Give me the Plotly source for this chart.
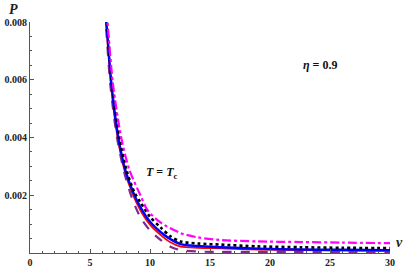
import plotly.graph_objects as go

# Curve data (v, P)
v_magenta = [6.2, 6.45, 6.9, 7.6, 8.3, 9.2, 9.8, 10.9, 12.55, 14.0, 15.9, 19.0, 22.6, 26.0, 30.0]
p_magenta = [0.0090, 0.0080, 0.0059, 0.0040, 0.00286, 0.0020, 0.00148, 0.00105, 0.00069, 0.00054, 0.00045, 0.00040, 0.00038, 0.00036, 0.00034]

v_black = [6.15, 6.4, 6.85, 7.45, 8.05, 8.7, 9.2, 10.0, 10.9, 11.7, 12.55, 14.0, 15.9, 19.0, 22.6, 26.0, 30.0]
p_black = [0.0090, 0.0080, 0.0058, 0.0040, 0.00286, 0.0021, 0.00176, 0.00125, 0.00088, 0.00058, 0.00040, 0.00033, 0.00029, 0.00023, 0.00020, 0.00018, 0.00017]

v_blue = [6.1, 6.36, 6.8, 7.36, 7.95, 8.6, 9.2, 10.0, 10.9, 11.7, 12.55, 14.0, 15.9, 19.0, 22.6, 26.0, 30.0]
p_blue = [0.0090, 0.0080, 0.0058, 0.0040, 0.00286, 0.0021, 0.00159, 0.00108, 0.00072, 0.00048, 0.00031, 0.00024, 0.00020, 0.00015, 0.00012, 0.00011, 0.00010]

v_red = [6.1, 6.33, 6.75, 7.3, 7.9, 8.5, 9.2, 10.0, 10.9, 11.7, 12.55, 14.0, 15.9, 19.0, 22.6, 26.0, 30.0]
p_red = [0.0090, 0.0080, 0.0058, 0.0040, 0.00283, 0.0021, 0.00148, 0.00098, 0.00062, 0.00037, 0.00022, 0.00018, 0.00016, 0.00012, 0.00010, 0.00008, 0.00007]

v_purple = [6.05, 6.3, 6.7, 7.25, 7.85, 8.5, 9.2, 10.0, 10.9, 11.7, 12.55, 14.0, 15.9, 19.0, 22.6, 26.0, 30.0]
p_purple = [0.0090, 0.0080, 0.0058, 0.0040, 0.0028, 0.0019, 0.00124, 0.00078, 0.00045, 0.00022, 0.00010, 0.00005, 0.00004, 0.00004, 0.00004, 0.00004, 0.00004]

x_ticks = [0, 5, 10, 15, 20, 25, 30]
y_ticks = [0.002, 0.004, 0.006, 0.008]
y_tick_labels = ["0.002", "0.004", "0.006", "0.008"]

fig = go.Figure()

def add(v, p, color, width, dash):
    fig.add_trace(go.Scatter(x=v, y=p, mode="lines",
                             line=dict(color=color, width=width, dash=dash, shape="spline", smoothing=0.8),
                             showlegend=False, hoverinfo="skip"))

add(v_red, p_red, "#ff0000", 1.8, "solid")
add(v_purple, p_purple, "#7d2a8c", 2.2, "dash")
add(v_blue, p_blue, "#0000ff", 2.4, "solid")
add(v_black, p_black, "#000000", 2.6, "dot")
add(v_magenta, p_magenta, "#ff00ff", 2.2, "dashdot")

tickfont = dict(family="Liberation Serif", size=10, color="#222", weight="bold")

fig.update_layout(
    width=415, height=267,
    margin=dict(l=30, r=25, t=22, b=14),
    paper_bgcolor="white", plot_bgcolor="white",
    xaxis=dict(range=[0, 30], tickvals=x_ticks, ticktext=[str(t) for t in x_ticks],
               automargin=False,
               showgrid=False, zeroline=False, showline=True, linecolor="#555", linewidth=1,
               ticks="inside", ticklen=4, tickcolor="#555", tickfont=tickfont,
               minor=dict(ticks="inside", dtick=1, ticklen=2, tickcolor="#555", showgrid=False)),
    yaxis=dict(range=[0, 0.008], tickvals=y_ticks, ticktext=y_tick_labels,
               automargin=False,
               showgrid=False, zeroline=False, showline=True, linecolor="#555", linewidth=1,
               ticks="inside", ticklen=4, tickcolor="#555", tickfont=tickfont,
               minor=dict(ticks="inside", dtick=0.0005, ticklen=2, tickcolor="#555", showgrid=False)),
    annotations=[
        dict(x=0, y=1.0, xref="paper", yref="paper", xanchor="right", yanchor="bottom",
             text="<b><i>P</i></b>", showarrow=False, xshift=-10, yshift=3,
             font=dict(family="Liberation Serif", size=14, color="#222")),
        dict(x=1.0, y=0, xref="paper", yref="paper", xanchor="left", yanchor="bottom",
             text="<b><i>v</i></b>", showarrow=False, xshift=4, yshift=1,
             font=dict(family="Liberation Serif", size=14, color="#222")),
        dict(x=22.6, y=0.0065, xref="x", yref="y", xanchor="left", yanchor="middle",
             text="<b><i>η</i> = 0.9</b>", showarrow=False,
             font=dict(family="Liberation Serif", size=12, color="#111")),
        dict(x=9.5, y=0.00276, xref="x", yref="y", xanchor="left", yanchor="middle",
             text="<b><i>T</i> = <i>T</i><sub>c</sub></b>", showarrow=False,
             font=dict(family="Liberation Serif", size=12, color="#111")),
    ],
)

fig.write_html("out.html", config={"displayModeBar": False},
               post_script="document.body.style.margin='0';document.body.style.padding='0';")
